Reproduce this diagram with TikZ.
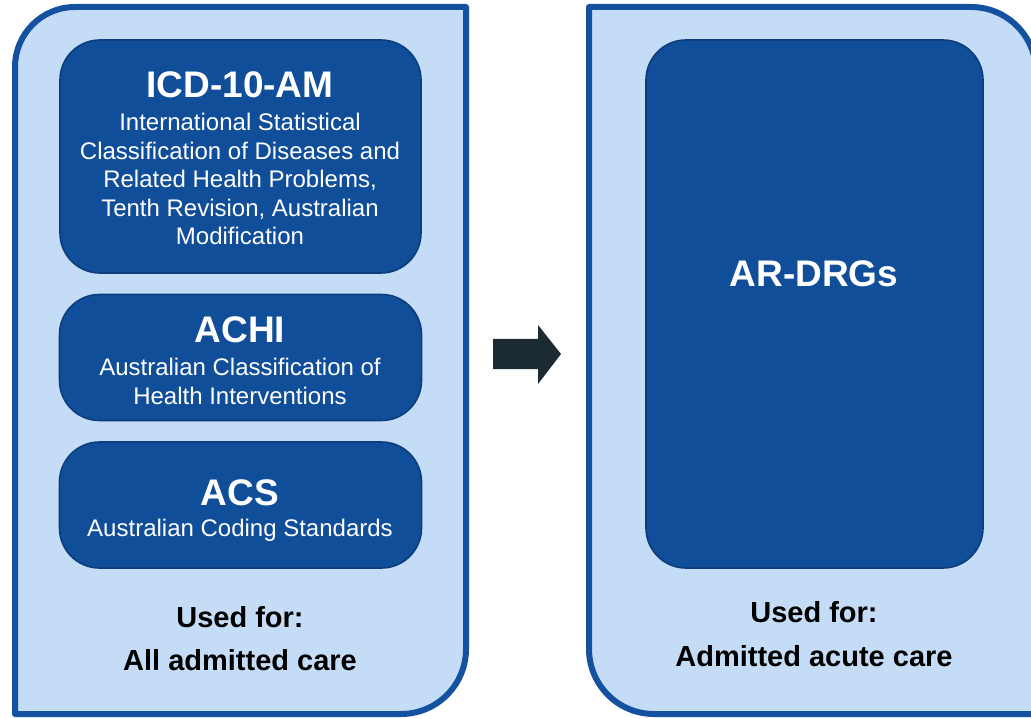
\documentclass[tikz,border=0pt]{standalone}
\usepackage{fontspec}
\setmainfont{Liberation Sans}
\definecolor{panelfill}{HTML}{C5DCF6}
\definecolor{panelline}{HTML}{1551A1}
\definecolor{boxfill}{HTML}{104E9A}
\definecolor{boxline}{HTML}{0C3D7C}
\definecolor{arrowc}{HTML}{1B2A33}
\tikzset{
  panel/.style={fill=panelfill, draw=panelline, line width=6pt, line join=round},
  codebox/.style={fill=boxfill, draw=boxline, line width=1.6pt, rounded corners=40pt, inner sep=0pt},
  boxtitle/.style={font=\bfseries\fontsize{37}{40}\selectfont, text=white, anchor=base, inner sep=0pt},
  boxsub/.style={font=\fontsize{24}{28.5}\selectfont, text=white, align=center, anchor=base, inner sep=0pt},
  usedtext/.style={font=\bfseries\fontsize{29}{32}\selectfont, text=black, anchor=base, inner sep=0pt}
}
\begin{document}
\begin{tikzpicture}[x=1pt,y=-1pt]
\useasboundingbox (0,0) rectangle (1031,719);
\clip (0,0) rectangle (1031,719);
% left panel
\path[panel] (15,714) -- (15,380) [rounded corners=60pt] -- (15,7) -- (240,7) [sharp corners] -- (466,7) -- (466,380) [rounded corners=65pt] -- (466,714) -- (240,714) [sharp corners] -- cycle;
% right panel
\path[panel] (589,380) -- (589,7) -- (800,7) [rounded corners=65pt] -- (1036,7) -- (1036,380) [sharp corners] -- (1036,714) -- (800,714) [rounded corners=65pt] -- (589,714) -- cycle;
% inner boxes
\node[codebox, minimum width=361pt, minimum height=233pt] (icd) at (240.5,156.5) {};
\node[codebox, minimum width=362pt, minimum height=126pt] (achi) at (240.5,357.5) {};
\node[codebox, minimum width=362pt, minimum height=126pt] (acs) at (240.5,505) {};
\node[codebox, minimum width=337pt, minimum height=528pt] (drg) at (814.5,304) {};
% texts (multi-line nodes anchored at the baseline of their last line)
\node[boxtitle] (icdT) at (240,98) {ICD-10-AM};
\node[boxsub] (icdS) at (240,245) {International Statistical\\Classification of Diseases and\\Related Health Problems,\\Tenth Revision, Australian\\Modification};
\node[boxtitle] (achiT) at (240,343) {ACHI};
\node[boxsub] (achiS) at (240,404) {Australian Classification of\\Health Interventions};
\node[boxtitle] (acsT) at (240,505) {ACS};
\node[boxsub] (acsS) at (240,536) {Australian Coding Standards};
\node[boxtitle] (drgT) at (814,287) {AR-DRGs};
\node[usedtext] (lu1) at (240,627) {Used for:};
\node[usedtext] (lu2) at (240,670) {All admitted care};
\node[usedtext] (ru1) at (814,622) {Used for:};
\node[usedtext] (ru2) at (814,666) {Admitted acute care};
% block arrow
\path[fill=arrowc] (493,339) -- (538,339) -- (538,325) -- (561,354) -- (538,384) -- (538,369) -- (493,369) -- cycle;
\end{tikzpicture}
\end{document}
